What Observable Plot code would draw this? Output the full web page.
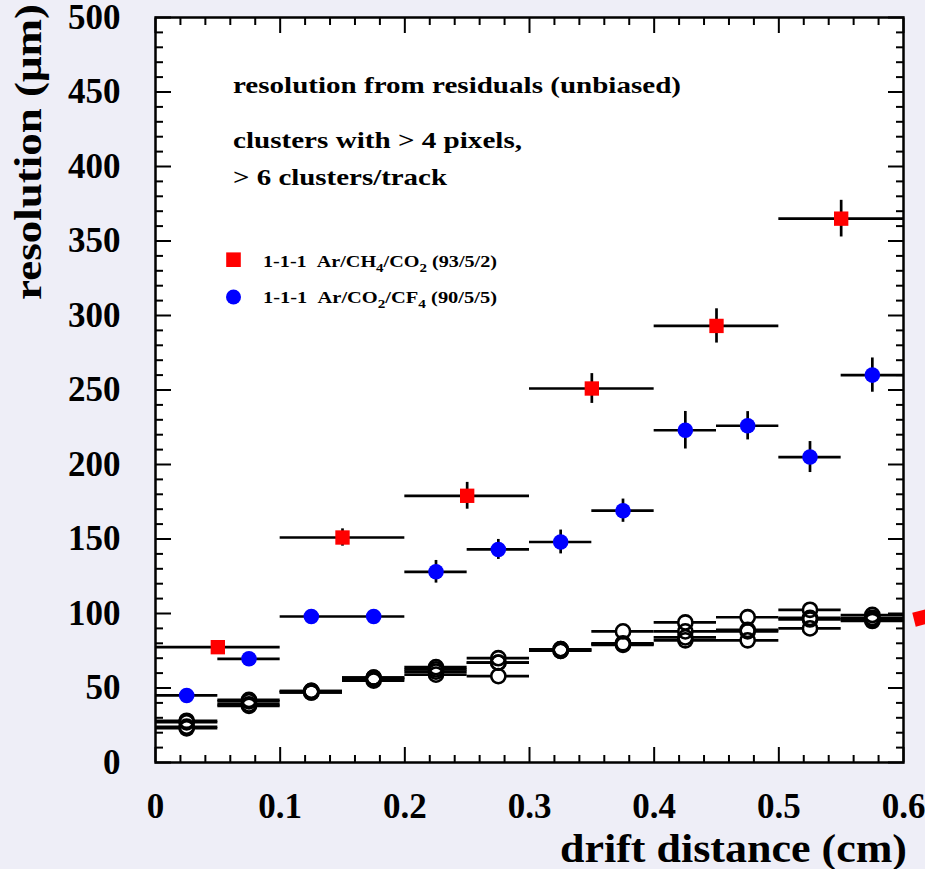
<!DOCTYPE html>
<html><head><meta charset="utf-8">
<script src="https://cdn.jsdelivr.net/npm/d3@7"></script>
<script src="https://cdn.jsdelivr.net/npm/@observablehq/plot@0.6"></script>
<style>
html,body{margin:0;padding:0;background:#eeeef7;}
#chart{width:925px;height:869px;overflow:hidden;}
svg{display:block;}
</style></head><body><div id="chart"></div>
<script>
// ---- data ----
const binX = [0.025,0.075,0.125,0.175,0.225,0.275,0.325,0.375,0.425,0.475,0.525,0.575];
const blueY   = [45,69.6,98,98,128,143,148,169,223,226,205,260];
const blueErr = [2,2,2,2,7.6,6.7,8,7.8,12.6,9.5,10.4,11.5];
const blueHalf = 0.025;
const redX   = [0.05,0.15,0.25,0.35,0.45,0.55];
const redY   = [77.4,151,179,251,293,365];
const redErr = [2,5.8,9,10,11.5,12.3];
const redHalf = 0.05;
const blackS1 = [28,42,48,57,64,70,76,88,94,97.5,102.5,99];
const blackS2 = [27,41,48,57,62.5,67,76,80,88,89,97,97];
const blackS3 = [24,39,47,56,61,67,75,79.5,84,88,96,96];
const blackS4 = [23,38,47,55,59,58,75,79,82,82,90,95];
const blackHalf = 0.025;
const offscaleX = [0.614], offscaleY = [97];
const xTicks = [0,0.1,0.2,0.3,0.4,0.5,0.6];
const xTickLabels = ["0","0.1","0.2","0.3","0.4","0.5","0.6"];
const yTicks = [0,50,100,150,200,250,300,350,400,450,500];
const yTickLabels = ["0","50","100","150","200","250","300","350","400","450","500"];

// ---- tables ----
const blue = binX.map((x,i)=>({x, y:blueY[i], e:blueErr[i], h:blueHalf}));
const red = redX.map((x,i)=>({x, y:redY[i], e:redErr[i], h:redHalf}));
const black = [blackS1,blackS2,blackS3,blackS4].flatMap((s,k)=>s.map((y,i)=>({x:binX[i], y, h:blackHalf, s:k})));
const offscale = offscaleX.map((x,i)=>({x, y:offscaleY[i]}));
const xMinor = d3.range(0,0.6001,0.02).filter(v=>Math.abs(v*10-Math.round(v*10))>1e-6);
const yMinor = d3.range(0,501,10).filter(v=>v%50!==0);

const FONT = "'Liberation Serif','Times New Roman',serif";
const noLab = () => "";
const tick = {stroke:"black", strokeWidth:2, tickFormat: noLab, label:null};
const LW = 2.7;

const chart = Plot.plot({
  width: 925, height: 869,
  marginLeft: 155, marginRight: 22, marginTop: 17, marginBottom: 107,
  x: {domain:[0,0.6], label:null}, y: {domain:[0,500], label:null},
  style: {background:"transparent", fontFamily: FONT, fontWeight:"bold", color:"black"},
  marks: [
    Plot.frame({fill:"white", stroke:null}),
    // black series
    Plot.ruleY(black, {y:"y", x1:d=>d.x-d.h, x2:d=>d.x+d.h, stroke:"black", strokeWidth:LW}),
    Plot.dot(black, {x:"x", y:"y", r:7.1, fill:"white", stroke:null}),
    Plot.dot(black, {x:"x", y:"y", r:7.1, fill:"none", stroke:"black", strokeWidth:2.6}),
    // blue series
    Plot.ruleY(blue, {y:"y", x1:d=>d.x-d.h, x2:d=>d.x+d.h, stroke:"black", strokeWidth:LW}),
    Plot.ruleX(blue, {x:"x", y1:d=>d.y-d.e, y2:d=>d.y+d.e, stroke:"black", strokeWidth:LW}),
    Plot.dot(blue, {x:"x", y:"y", r:7.8, fill:"#0000ff", stroke:null}),
    // red series
    Plot.ruleY(red, {y:"y", x1:d=>d.x-d.h, x2:d=>d.x+d.h, stroke:"black", strokeWidth:LW}),
    Plot.ruleX(red, {x:"x", y1:d=>d.y-d.e, y2:d=>d.y+d.e, stroke:"black", strokeWidth:LW}),
    Plot.dot(red, {x:"x", y:"y", r:8.1, symbol:"square", fill:"#ff0000", stroke:null}),
    Plot.dot(offscale, {x:"x", y:"y", r:8.1, symbol:"square", fill:"#ff0000", stroke:null, rotate:-14}),
    // ticks (inward)
    Plot.axisX(xTicks, {anchor:"bottom", tickSize:-15, ...tick}),
    Plot.axisX(xMinor, {anchor:"bottom", tickSize:-7, ...tick}),
    Plot.axisX(xTicks, {anchor:"top", tickSize:-15, ...tick}),
    Plot.axisX(xMinor, {anchor:"top", tickSize:-7, ...tick}),
    Plot.axisY(yTicks, {anchor:"left", tickSize:-16, ...tick}),
    Plot.axisY(yMinor, {anchor:"left", tickSize:-8, ...tick}),
    Plot.axisY(yTicks, {anchor:"right", tickSize:-16, ...tick}),
    Plot.axisY(yMinor, {anchor:"right", tickSize:-8, ...tick}),
    // tick labels
    Plot.axisX(xTicks, {anchor:"bottom", tickSize:0, tickPadding:31, fontSize:35, fontWeight:"bold", label:null,
      tickFormat:(d)=>xTickLabels[xTicks.indexOf(d)]}),
    Plot.axisY(yTicks, {anchor:"left", tickSize:0, tickPadding:35, fontSize:35, fontWeight:"bold", label:null,
      tickFormat:(d)=>yTickLabels[yTicks.indexOf(d)]}),
    Plot.frame({stroke:"black", strokeWidth:2.5, fill:null})
  ]
});
document.getElementById("chart").appendChild(chart);

// ---- annotations ----
const svg = d3.select(chart);
const g = svg.append("g").attr("font-family", FONT).attr("font-weight","bold").attr("fill","black").attr("text-anchor","start");
function txt(x,y,s,size,len,anchor){
  const t = g.append("text").attr("x",x).attr("y",y).attr("font-size",size)
    .attr("text-anchor",anchor||"start").text(s);
  if (len) t.attr("textLength",len).attr("lengthAdjust","spacingAndGlyphs");
  return t;
}
txt(233,92.5,"resolution from residuals (unbiased)",24,448);
txt(233,148,"clusters with > 4 pixels,",24,289);
txt(233,185,"> 6 clusters/track",24,214);
txt(907,862,"drift distance (cm)",40,347,"end");
g.append("text").attr("transform","translate(41,152) rotate(-90)").attr("text-anchor","middle")
  .attr("font-size",37).attr("textLength",296).attr("lengthAdjust","spacingAndGlyphs").text("resolution (\u03bcm)");

// legend
const legend = [
  {mk:"square", color:"#ff0000", cy:259.7, base:266.5, parts:[["1-1-1\u00a0\u00a0Ar/CH",0],["4",1],["/CO",0],["2",1],[" (93/5/2)",0]]},
  {mk:"circle", color:"#0000ff", cy:297, base:303, parts:[["1-1-1\u00a0\u00a0Ar/CO",0],["2",1],["/CF",0],["4",1],[" (90/5/5)",0]]}
];
legend.forEach(L=>{
  if (L.mk==="square") g.append("rect").attr("x",233.5-7.3).attr("y",L.cy-7.3).attr("width",14.6).attr("height",14.6).attr("fill",L.color);
  else g.append("circle").attr("cx",233.5).attr("cy",L.cy).attr("r",7.5).attr("fill",L.color);
  const t = g.append("text").attr("x",263).attr("y",L.base).attr("font-size",17.5).attr("text-anchor","start")
    .attr("textLength",234).attr("lengthAdjust","spacingAndGlyphs");
  let prevSub = false;
  L.parts.forEach(([s,sub])=>{
    const ts = t.append("tspan").text(s);
    if (sub) ts.attr("font-size",13);
    ts.attr("dy", sub && !prevSub ? 5 : (!sub && prevSub ? -5 : 0));
    prevSub = !!sub;
  });
});
</script>
</body></html>
